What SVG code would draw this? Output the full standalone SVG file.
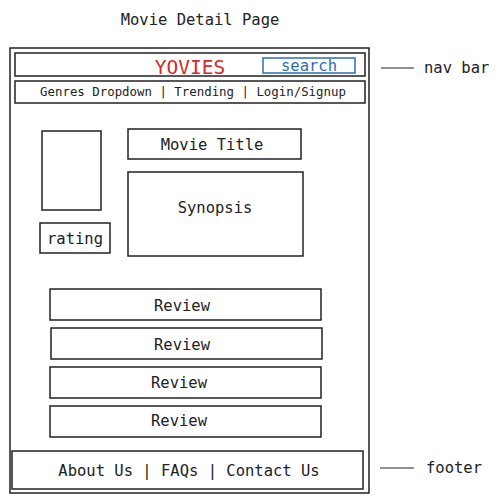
<svg xmlns="http://www.w3.org/2000/svg" width="501" height="503" viewBox="0 0 501 503">
<style>
text{font-family:"DejaVu Sans Mono","Liberation Mono",monospace;font-size:15.5px;fill:#222;text-anchor:middle}
.box{fill:none;stroke:#222;stroke-width:1.5}
.sm{font-size:12.4px}
.lbl{text-anchor:start}
</style>
<rect width="501" height="503" fill="#fff"/>
<text x="200" y="25">Movie Detail Page</text>
<g id="frame"><rect class="box" x="10" y="48" width="359" height="445"/></g>
<g id="navbar">
<rect class="box" x="15" y="53" width="350" height="23"/>
<text x="190" y="74" style="font-size:19.5px;fill:#d42a2a">YOVIES</text>
<rect x="263" y="58" width="92" height="15" fill="none" stroke="#2e6db4" stroke-width="1.5"/>
<text x="309" y="71" style="fill:#2e6db4">search</text>
</g>
<g id="menu">
<rect class="box" x="15" y="81" width="350" height="22"/>
<text class="sm" x="193" y="96">Genres Dropdown | Trending | Login/Signup</text>
</g>
<g id="poster"><rect class="box" x="42" y="131" width="59" height="79"/></g>
<g id="rating"><rect class="box" x="40" y="223" width="70" height="30"/><text x="75" y="244">rating</text></g>
<g id="title"><rect class="box" x="128" y="129" width="173" height="30"/><text x="212" y="150">Movie Title</text></g>
<g id="synopsis"><rect class="box" x="128" y="172" width="175" height="84"/><text x="215" y="213">Synopsis</text></g>
<g id="review1"><rect class="box" x="50" y="289" width="271" height="31"/><text x="182" y="311">Review</text></g>
<g id="review2"><rect class="box" x="51" y="328" width="271" height="31"/><text x="182" y="350">Review</text></g>
<g id="review3"><rect class="box" x="50" y="367" width="271" height="31"/><text x="179" y="388">Review</text></g>
<g id="review4"><rect class="box" x="50" y="406" width="271" height="31"/><text x="179" y="426">Review</text></g>
<g id="footer"><rect class="box" x="12" y="451" width="351" height="38"/><text x="189" y="476">About Us | FAQs | Contact Us</text></g>
<g id="connectors">
<line x1="381" y1="68" x2="414" y2="68" stroke="#222" stroke-width="1.2"/>
<line x1="380" y1="468" x2="414" y2="468" stroke="#222" stroke-width="1.2"/>
</g>
<g id="annotations">
<text class="lbl" x="424" y="73">nav bar</text>
<text class="lbl" x="426" y="473">footer</text>
</g>
</svg>
